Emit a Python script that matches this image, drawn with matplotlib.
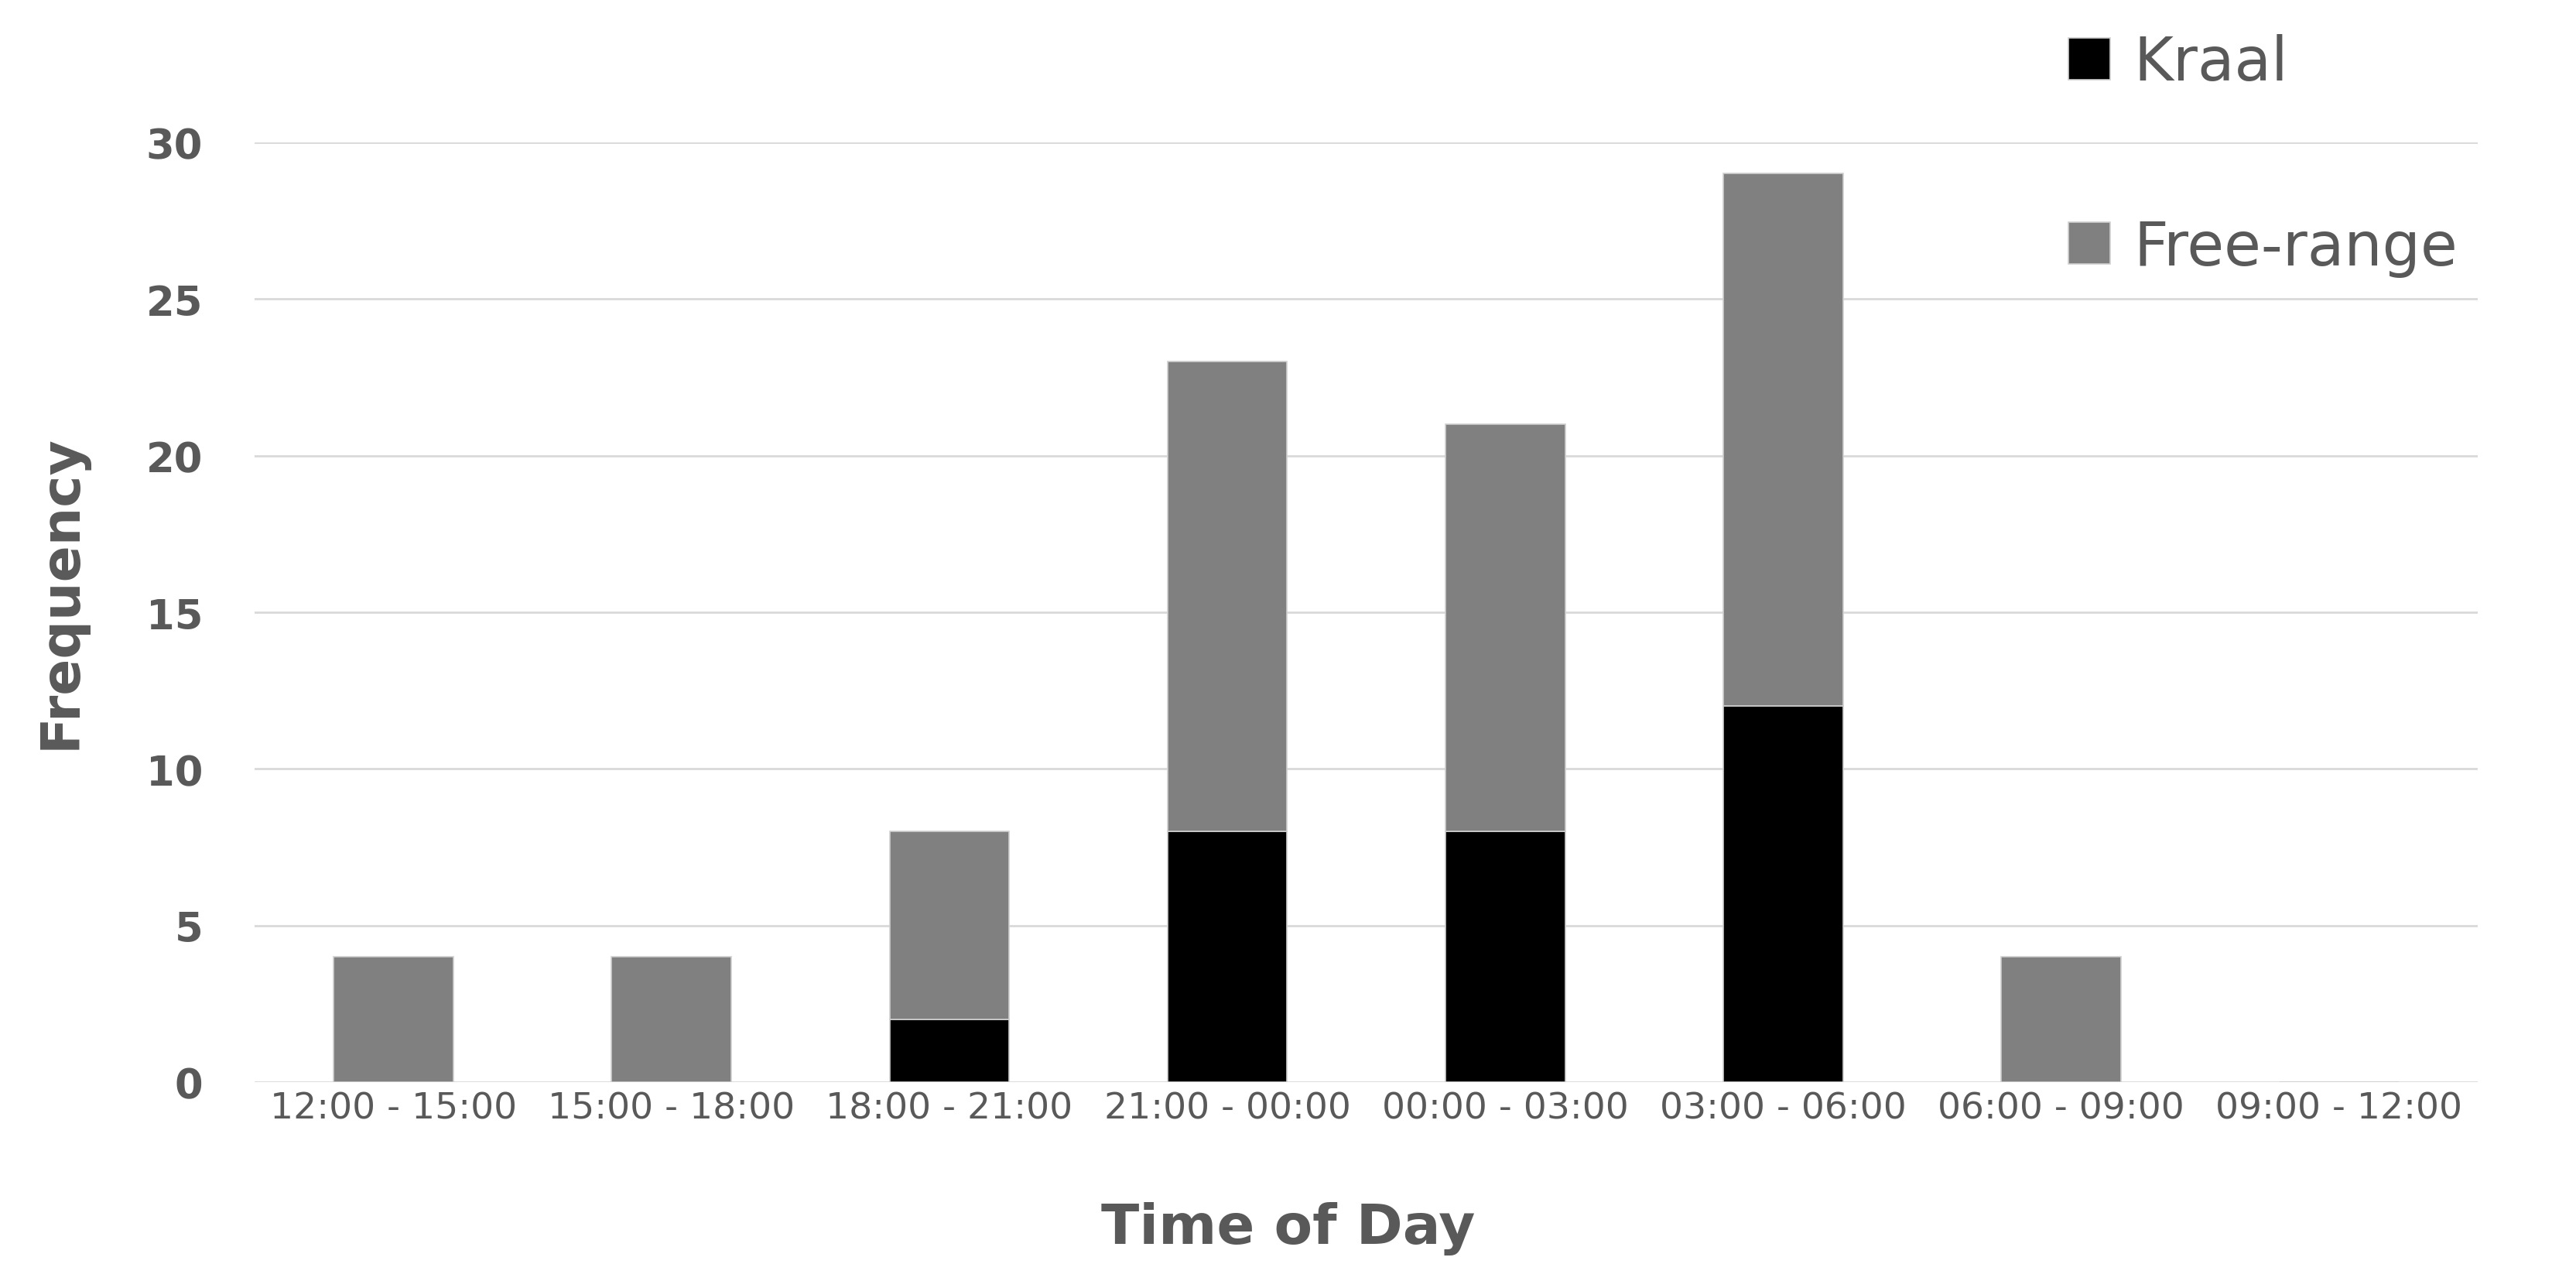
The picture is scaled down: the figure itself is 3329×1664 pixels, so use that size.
import numpy as np
import matplotlib
matplotlib.use('Agg')
import matplotlib.pyplot as plt

# data
periods = ['12:00 - 15:00', '15:00 - 18:00', '18:00 - 21:00', '21:00 - 00:00',
           '00:00 - 03:00', '03:00 - 06:00', '06:00 - 09:00', '09:00 - 12:00']
kraal = [0, 0, 2, 8, 8, 12, 0, 0]
free_range = [4, 4, 6, 15, 13, 17, 4, 0]
y_ticks = [0, 5, 10, 15, 20, 25, 30]

plt.rcParams['font.family'] = 'DejaVu Sans'
text_col = '#595959'

fig = plt.figure(figsize=(33.29, 16.65), dpi=100)
ax = fig.add_axes([0.0988, 0.1597, 0.8632, 0.7292])

x = np.arange(len(periods))
w = 0.43
ax.bar(x, kraal, w, color='black', edgecolor='#cfcfcf', linewidth=1.2, label='Kraal', zorder=3)
ax.bar(x, free_range, w, bottom=kraal, color='#808080', edgecolor='#cfcfcf',
       linewidth=1.2, label='Free-range', zorder=3)

ax.set_xlim(-0.5, len(periods) - 0.5)
ax.set_ylim(0, 30)
ax.set_yticks(y_ticks)
ax.set_xticks(x)
ax.set_xticklabels(periods, fontsize=34, color=text_col)
ax.tick_params(axis='x', length=0, pad=8)
ax.tick_params(axis='y', length=0, pad=48, labelsize=38, labelcolor=text_col)
for lbl in ax.get_yticklabels():
    lbl.set_fontweight('bold')

ax.yaxis.grid(True, color='#d9d9d9', linewidth=2.0, zorder=0)
ax.set_axisbelow(True)
for s in ax.spines.values():
    s.set_visible(False)

fig.text(0.5002, 1 - 1588 / 1665, 'Time of Day', ha='center', va='center',
         fontsize=52, fontweight='bold', color=text_col)
fig.text(79 / 3329, 1 - 765 / 1665, 'Frequency', ha='center', va='center',
         rotation=90, fontsize=50, fontweight='bold', color=text_col)

ax.legend(loc='upper left', bbox_to_anchor=(2673 / 3329, 1 - 44 / 1665),
          bbox_transform=fig.transFigure, frameon=False, fontsize=56,
          labelcolor=text_col, handlelength=0.69, handleheight=0.69,
          handletextpad=0.4, labelspacing=2.09, borderpad=0, borderaxespad=0)

fig.savefig('out.png', dpi=100)
